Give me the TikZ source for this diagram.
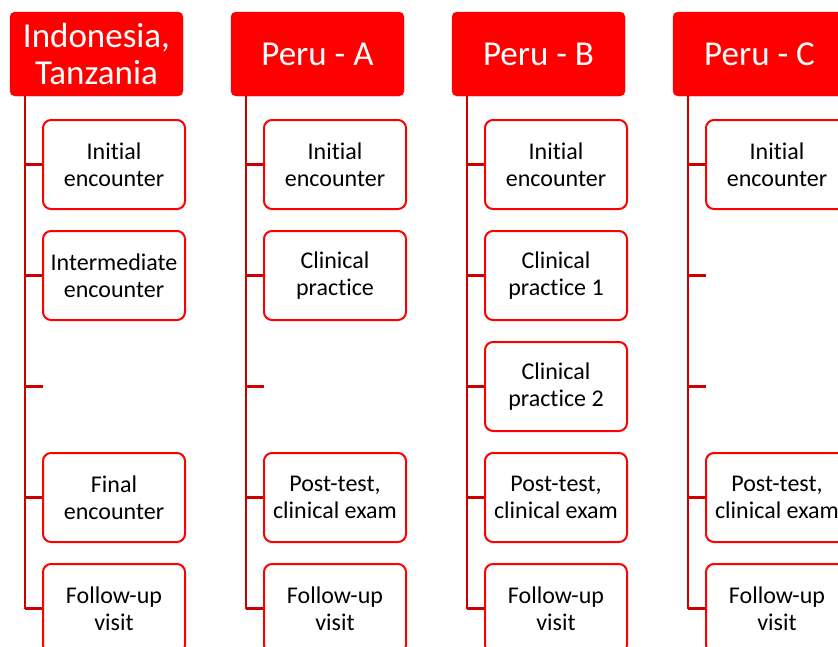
\documentclass[tikz,border=0pt]{standalone}
\usepackage{fontspec}
\setmainfont{Carlito}[Ligatures=NoCommon]
\definecolor{hdrred}{RGB}{255,0,0}
\definecolor{boxred}{RGB}{255,0,0}
\definecolor{connred}{RGB}{204,0,0}
\tikzset{
  hdr/.style={draw=hdrred, fill=hdrred, rounded corners=5pt, minimum width=173pt, minimum height=84pt,
    inner sep=0pt, text=white, align=center, font=\fontsize{35}{37}\selectfont},
  child/.style={draw=boxred, fill=white, line width=2pt, rounded corners=8pt, minimum width=142pt,
    minimum height=89pt, inner sep=0pt, align=center, text=black, font=\fontsize{24}{27}\selectfont},
  conn/.style={draw=connred, line width=2.3pt}
}
\begin{document}
\begin{tikzpicture}[x=1pt,y=-1pt]
\useasboundingbox (0,0) rectangle (838,646);
\clip (0,0) rectangle (838,646);
% headers
\node[hdr] (h1) at (96.5,54) {Indonesia,\\Tanzania};
\node[hdr] (h2) at (317.5,54) {Peru - A};
\node[hdr] (h3) at (538.5,54) {Peru - B};
\node[hdr] (h4) at (759.5,54) {Peru - C};
% trunk tops
\coordinate (t1) at (25,96);
\coordinate (t2) at (246,96);
\coordinate (t3) at (467,96);
\coordinate (t4) at (688,96);
% column 1
\node[child] (a1) at (114,164.5) {Initial\\encounter};
\node[child] (a2) at (114,275.5) {Intermediate\\encounter};
\coordinate (a3) at (43,386.5);
\node[child] (a4) at (114,497.5) {Final\\encounter};
\node[child] (a5) at (114,608.5) {Follow-up\\visit};
% column 2
\node[child] (b1) at (335,164.5) {Initial\\encounter};
\node[child] (b2) at (335,275.5) {Clinical\\practice};
\coordinate (b3) at (264,386.5);
\node[child] (b4) at (335,497.5) {Post-test,\\clinical exam};
\node[child] (b5) at (335,608.5) {Follow-up\\visit};
% column 3
\node[child] (c1) at (556,164.5) {Initial\\encounter};
\node[child] (c2) at (556,275.5) {Clinical\\practice 1};
\node[child] (c3) at (556,386.5) {Clinical\\practice 2};
\node[child] (c4) at (556,497.5) {Post-test,\\clinical exam};
\node[child] (c5) at (556,608.5) {Follow-up\\visit};
% column 4
\node[child] (d1) at (777,164.5) {Initial\\encounter};
\coordinate (d2) at (706,275.5);
\coordinate (d3) at (706,386.5);
\node[child] (d4) at (777,497.5) {Post-test,\\clinical exam};
\node[child] (d5) at (777,608.5) {Follow-up\\visit};
% connectors
\draw[conn] (t1) -- (t1 |- a5.west);
\draw[conn] (t1 |- a1.west) -- (a1.west);
\draw[conn] (t1 |- a2.west) -- (a2.west);
\draw[conn] (t1 |- a3) -- (a3);
\draw[conn] (t1 |- a4.west) -- (a4.west);
\draw[conn] (t1 |- a5.west) -- (a5.west);
\draw[conn] (t2) -- (t2 |- b5.west);
\draw[conn] (t2 |- b1.west) -- (b1.west);
\draw[conn] (t2 |- b2.west) -- (b2.west);
\draw[conn] (t2 |- b3) -- (b3);
\draw[conn] (t2 |- b4.west) -- (b4.west);
\draw[conn] (t2 |- b5.west) -- (b5.west);
\draw[conn] (t3) -- (t3 |- c5.west);
\draw[conn] (t3 |- c1.west) -- (c1.west);
\draw[conn] (t3 |- c2.west) -- (c2.west);
\draw[conn] (t3 |- c3.west) -- (c3.west);
\draw[conn] (t3 |- c4.west) -- (c4.west);
\draw[conn] (t3 |- c5.west) -- (c5.west);
\draw[conn] (t4) -- (t4 |- d5.west);
\draw[conn] (t4 |- d1.west) -- (d1.west);
\draw[conn] (t4 |- d2) -- (d2);
\draw[conn] (t4 |- d3) -- (d3);
\draw[conn] (t4 |- d4.west) -- (d4.west);
\draw[conn] (t4 |- d5.west) -- (d5.west);
\end{tikzpicture}
\end{document}
